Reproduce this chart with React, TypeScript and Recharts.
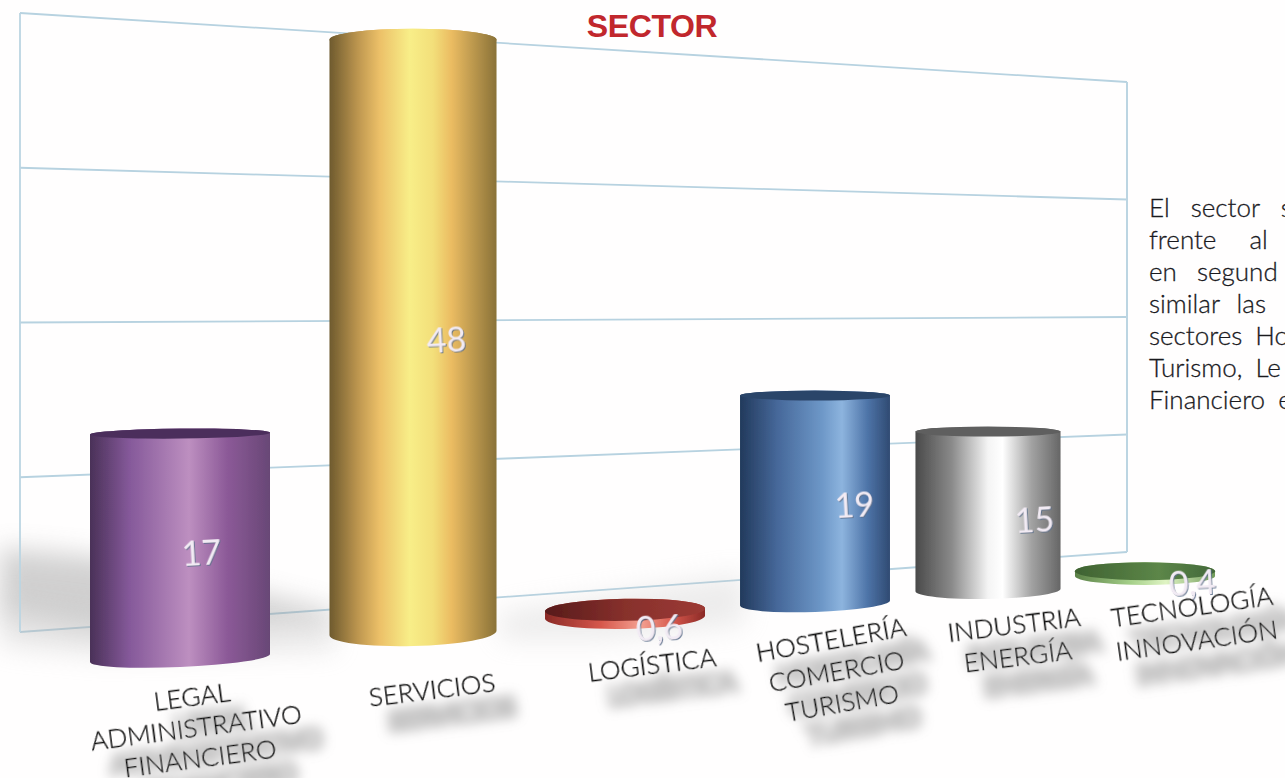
import React from 'react';
import { BarChart, Bar, XAxis, YAxis, CartesianGrid, Customized } from 'recharts';

const categories = [
    'LEGAL ADMINISTRATIVO FINANCIERO',
    'SERVICIOS',
    'LOGÍSTICA',
    'HOSTELERÍA COMERCIO TURISMO',
    'INDUSTRIA ENERGÍA',
    'TECNOLOGÍA INNOVACIÓN',
];
const values = [17, 48, 0.6, 19, 15, 0.4];
const valueLabels = ['17', '48', '0,6', '19', '15', '0,4'];
const wallTicks = [0, 12.5, 25, 37.5, 50];
const noteLines = ['El sector s', 'frente al', 'en segund', 'similar las', 'sectores Ho', 'Turismo, Le', 'Financiero e'];
const noteSpacing = [14, 26, 13, 10, 6, 6, 6];

const WIDTH = 1285;
const HEIGHT = 778;
const PLOT_BOTTOM = 645;
const PLOT_HEIGHT = 600;

// fake perspective: every cylinder is moved/scaled after the library has sized it
const depth = [
    { dx: 0, floor: 658, k: 1.1, w: 1, ry: 9, tilt: -2.5, topTilt: -0.6, topRy: 5, labelDx: 22, labelDy: -93 },
    { dx: 40, floor: 633, k: 1.03, w: 0.928, ry: 13, tilt: -1.5, topTilt: 0, topRy: 11, labelDx: 34, labelDy: -281 },
    { dx: 59, floor: 617, k: 1, w: 0.889, ry: 12, tilt: -1, topTilt: -1, topRy: 11, labelDx: 35, labelDy: 23 },
    { dx: 56, floor: 603, k: 0.91, w: 0.833, ry: 9, tilt: -2, topTilt: 0, topRy: 5, labelDx: 40, labelDy: -86 },
    { dx: 36, floor: 590, k: 0.88, w: 0.806, ry: 9, tilt: -1, topTilt: 0, topRy: 5, labelDx: 47, labelDy: -58 },
    { dx: 0, floor: 576, k: 1, w: 0.778, ry: 9, tilt: 0, topTilt: 0, topRy: 9, labelDx: 48, labelDy: 19 },
];

const tickStyle = [
    { dx: 12, y: 697, step: 31, rot: -7.5, size: 26 },
    { dx: 59, y: 690, step: 0, rot: -7, size: 26 },
    { dx: 86, y: 665, step: 0, rot: -7, size: 26 },
    { dx: 72, y: 640, step: 32, rot: -10, size: 26 },
    { dx: 62, y: 625, step: 32, rot: -7, size: 26 },
    { dx: 47, y: 607, step: 34, rot: -8, size: 26 },
];

const palettes = [
    { top: '#4b2f5c', stops: [[0, '#4a3158'], [0.22, '#85599a'], [0.55, '#bd8fc0'], [0.76, '#8c5a98'], [1, '#684776']] },
    { top: 'url(#cyl1)', stops: [[0, '#6e5a2e'], [0.17, '#bd964f'], [0.3, '#ecc068'], [0.48, '#f8ee88'], [0.62, '#f3df7a'], [0.73, '#ebbc62'], [1, '#8a7238']] },
    { top: 'url(#top2)', stops: [[0, '#8a2a26'], [0.35, '#d6574c'], [0.6, '#f4a090'], [0.8, '#d6574c'], [1, '#8a2a26']] },
    { top: '#2c4569', stops: [[0, '#223a5c'], [0.25, '#46689a'], [0.55, '#6e98c8'], [0.68, '#8db4de'], [0.85, '#4e74a8'], [1, '#2f4a72']] },
    { top: '#5e5e5e', stops: [[0, '#4a4a4a'], [0.25, '#8a8a8a'], [0.5, '#f4f4f4'], [0.6, '#ffffff'], [0.8, '#a2a2a2'], [1, '#666666']] },
    { top: 'url(#top5)', stops: [[0, '#5a8046'], [0.4, '#a6d08a'], [0.65, '#e0f4c4'], [1, '#6f9a58']] },
];

const data = categories.map((name, i) => ({ name, value: values[i], label: valueLabels[i] }));

const FONT = 'Lato, "Open Sans", sans-serif';

function wallLeft(y: number) {
    return 632 - (619 * (PLOT_BOTTOM - y)) / PLOT_HEIGHT;
}
function wallRight(y: number) {
    return 552 - (470 * (PLOT_BOTTOM - y)) / PLOT_HEIGHT;
}

const WallLine = (props: any) => (
    <line
        x1={20}
        x2={1127}
        y1={wallLeft(props.y1)}
        y2={wallRight(props.y1)}
        stroke="#b7d2e0"
        strokeWidth={1.8}
        filter="url(#soft)"
    />
);

const Defs = () => (
    <defs>
        {palettes.map((p, i) => (
            <linearGradient key={i} id={`cyl${i}`} x1="0" y1="0" x2="1" y2="0">
                {p.stops.map(([o, c]) => (
                    <stop key={o} offset={o as number} stopColor={c as string} />
                ))}
            </linearGradient>
        ))}
        <linearGradient id="top2" x1="0" y1="0" x2="1" y2="0">
            <stop offset="0" stopColor="#571b1a" />
            <stop offset="0.5" stopColor="#87302c" />
            <stop offset="1" stopColor="#9c3a34" />
        </linearGradient>
        <linearGradient id="top5" x1="0" y1="0" x2="1" y2="0">
            <stop offset="0" stopColor="#3f6232" />
            <stop offset="0.6" stopColor="#5c8648" />
            <stop offset="1" stopColor="#43683a" />
        </linearGradient>
        <filter id="soft" filterUnits="userSpaceOnUse" x="0" y="0" width={WIDTH} height={HEIGHT}>
            <feGaussianBlur stdDeviation="0.6" />
        </filter>
        <filter id="floorBlur" x="-30%" y="-80%" width="160%" height="260%">
            <feGaussianBlur stdDeviation="13" />
        </filter>
        <filter id="labelShadow" filterUnits="userSpaceOnUse" x="-200" y="-100" width="600" height="300">
            <feMorphology in="SourceAlpha" operator="dilate" radius="3" result="fat" />
            <feOffset in="fat" dx="17" dy="26" result="moved" />
            <feGaussianBlur in="moved" stdDeviation="6" result="blurred" />
            <feFlood floodColor="#8a8a8a" floodOpacity="0.5" />
            <feComposite in2="blurred" operator="in" result="shadow" />
            <feMerge>
                <feMergeNode in="shadow" />
                <feMergeNode in="SourceGraphic" />
            </feMerge>
        </filter>
        <filter id="bevel" x="-30%" y="-30%" width="160%" height="160%">
            <feDropShadow dx="1" dy="1" stdDeviation="0.6" floodColor="#5c6f8c" floodOpacity="0.9" />
        </filter>
    </defs>
);

const WallFrame = () => (
    <g>
        <polygon points="0,548 90,556 270,596 335,612 335,628 90,628 0,612" fill="#9a9a9a" opacity={0.45} filter="url(#floorBlur)" />
        <polygon points="0,600 200,625 335,635 335,650 100,655 0,645" fill="#bcbcbc" opacity={0.35} filter="url(#floorBlur)" />
        <polygon points="500,612 745,572 745,625 600,640 500,640" fill="#c4c4c4" opacity={0.3} filter="url(#floorBlur)" />
        <line x1={20} x2={20} y1={13} y2={632} stroke="#bcd5e2" strokeWidth={1.8} filter="url(#soft)" />
        <line x1={1127} x2={1127} y1={82} y2={552} stroke="#bcd5e2" strokeWidth={2} filter="url(#soft)" />
    </g>
);

const Cylinder = (props: any) => {
    const { x, width, height, index, payload } = props;
    const d = depth[index];
    const cx = x + width / 2 + d.dx;
    const rx = (width * d.w) / 2;
    const yb = d.floor;
    const yt = yb - height * d.k;
    const bs = rx * Math.tan((d.tilt * Math.PI) / 180);
    const ts = rx * Math.tan((d.topTilt * Math.PI) / 180);
    const body = [
        `M${cx - rx},${yt - ts}`,
        `L${cx - rx},${yb - bs}`,
        `A${rx},${d.ry} ${d.tilt} 0 0 ${cx + rx},${yb + bs}`,
        `L${cx + rx},${yt + ts}`,
        `A${rx},${d.topRy} ${d.topTilt} 0 0 ${cx - rx},${yt - ts}`,
        'Z',
    ].join(' ');
    return (
        <g>
            <g filter="url(#soft)">
                <path d={body} fill={`url(#cyl${index})`} />
                <ellipse
                    cx={cx}
                    cy={yt}
                    rx={rx}
                    ry={d.topRy}
                    fill={palettes[index].top}
                    transform={`rotate(${d.topTilt} ${cx} ${yt})`}
                />
            </g>
            <text
                x={cx + d.labelDx}
                y={yb + d.labelDy}
                textAnchor="middle"
                fontFamily={FONT}
                fontSize={34}
                fill="#f2ebf4"
                filter="url(#bevel)"
                transform={`rotate(-3 ${cx + d.labelDx} ${yb + d.labelDy})`}
            >
                {payload.label}
            </text>
        </g>
    );
};

const CategoryTick = (props: any) => {
    const { x, index, payload } = props;
    const s = tickStyle[index];
    const lines = String(payload.value).split(' ');
    return (
        <g transform={`translate(${x + s.dx},${s.y}) rotate(${s.rot})`} filter="url(#labelShadow)">
            {lines.map((line, i) => (
                <text
                    key={line}
                    x={0}
                    y={i * s.step}
                    dy="0.36em"
                    textAnchor="middle"
                    fontFamily={FONT}
                    fontWeight={300}
                    fontSize={s.size}
                    fill="#111111"
                    stroke="#111111"
                    strokeWidth={0.3}
                >
                    {line}
                </text>
            ))}
        </g>
    );
};

const Annotations = () => (
    <g>
        <text x={652} y={37} textAnchor="middle" fontFamily='"Liberation Sans", Arial, sans-serif' fontWeight="bold" fontSize={32} letterSpacing={-0.4} fill="#c1272d">
            SECTOR
        </text>
        {noteLines.map((line, i) => (
            <text key={line} x={1149} y={217 + i * 32} fontFamily={FONT} fontWeight={300} fontSize={26} fill="#1a1a1e" stroke="#1a1a1e" strokeWidth={0.3} wordSpacing={noteSpacing[i]}>
                {line}
            </text>
        ))}
    </g>
);

export default function App() {
    return (
        <div style={{ position: 'absolute', left: 0, top: 0, width: WIDTH, height: HEIGHT, background: '#fffefe', overflow: 'hidden' }}>
            <BarChart
                width={WIDTH}
                height={HEIGHT}
                data={data}
                margin={{ top: PLOT_BOTTOM - PLOT_HEIGHT, right: 43.5, bottom: 0, left: 83.5 }}
                barCategoryGap={6.5}
            >
                <Defs />
                <Customized component={WallFrame} />
                <CartesianGrid vertical={false} horizontal={WallLine} syncWithTicks />
                <XAxis
                    dataKey="name"
                    height={HEIGHT - PLOT_BOTTOM}
                    interval={0}
                    axisLine={false}
                    tickLine={false}
                    tick={CategoryTick}
                />
                <YAxis hide domain={[0, 50]} ticks={wallTicks} width={0} />
                <Bar dataKey="value" shape={Cylinder} isAnimationActive={false} />
                <Customized component={Annotations} />
            </BarChart>
        </div>
    );
}
